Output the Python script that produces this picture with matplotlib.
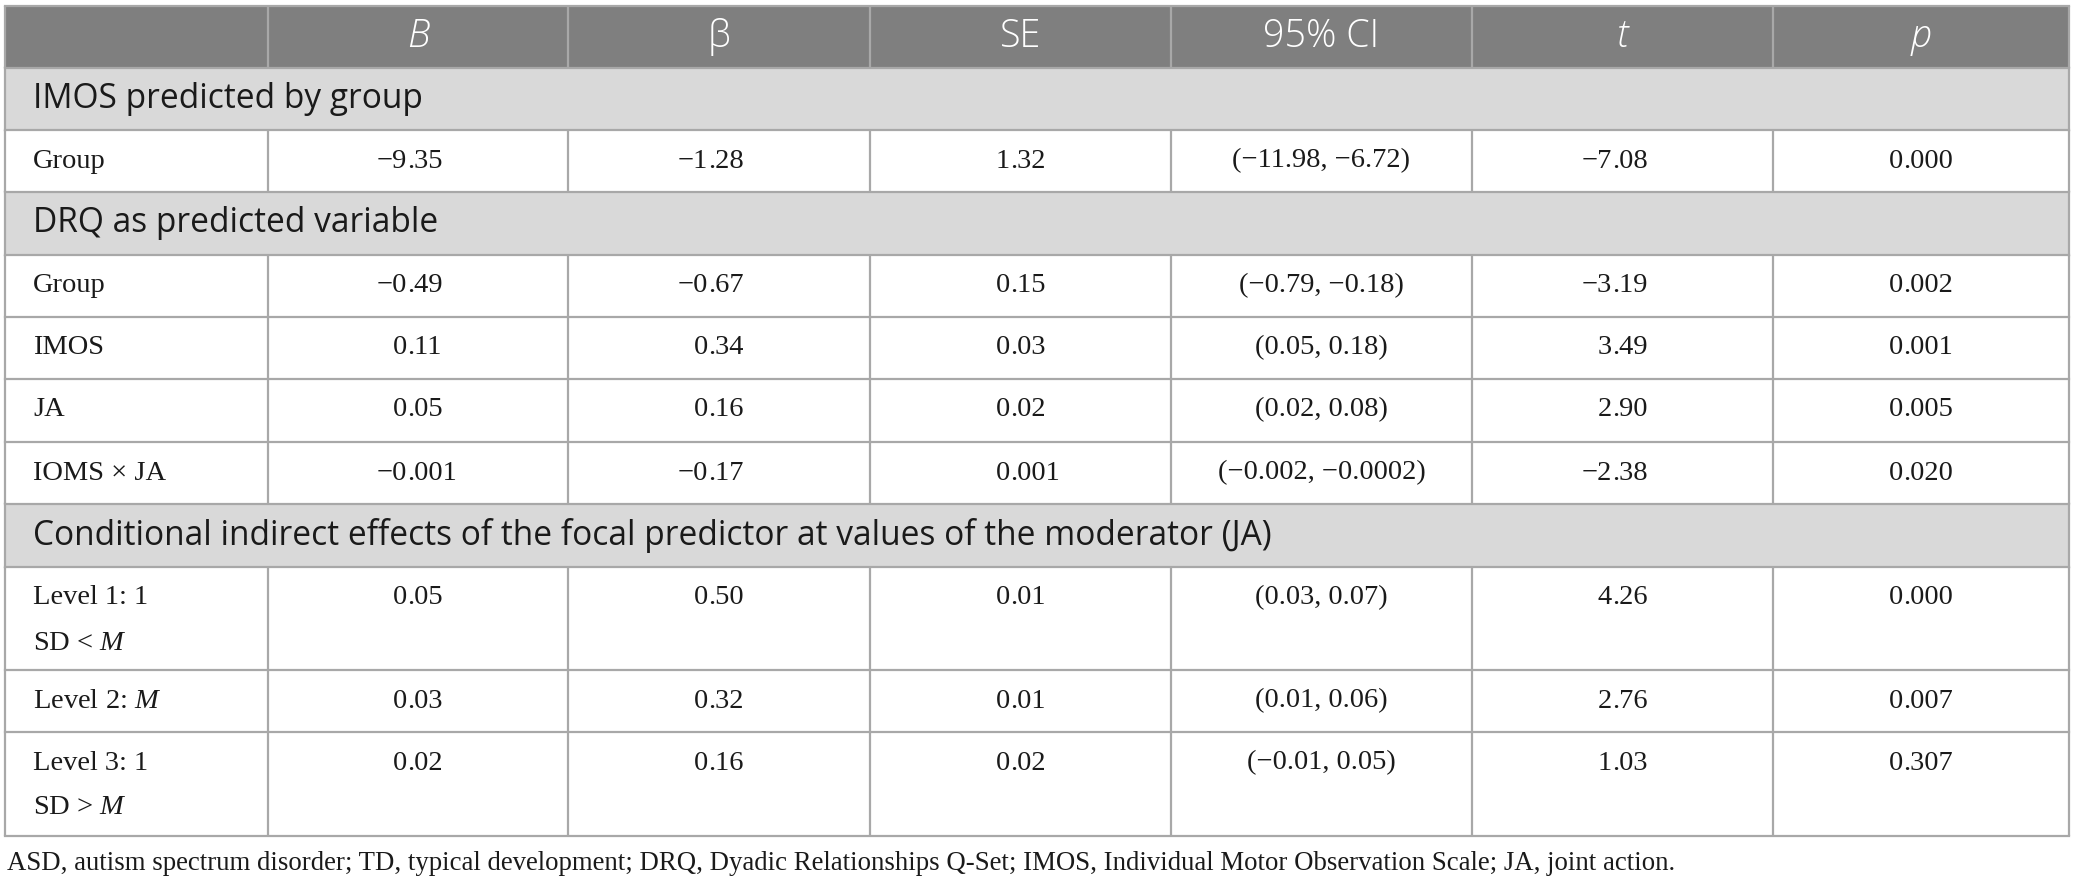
import matplotlib
matplotlib.use("Agg")
import matplotlib.pyplot as plt
from matplotlib.patches import Rectangle
from matplotlib.font_manager import FontProperties

plt.rcParams['mathtext.fontset'] = 'custom'
plt.rcParams['mathtext.rm'] = 'Liberation Serif'
plt.rcParams['mathtext.it'] = 'Liberation Serif:italic'

# ---------------- data ----------------
col_headers = ["", "B", "β", "SE", "95% CI", "t", "p"]
col_header_italic = [False, True, False, False, False, True, True]

section_titles = [
    "IMOS predicted by group",
    "DRQ as predicted variable",
    "Conditional indirect effects of the focal predictor at values of the moderator (JA)",
]
section_sizes = [1, 4, 3]

row_labels = [
    "Group",
    "Group",
    "IMOS",
    "JA",
    "IOMS × JA",
    "Level 1: 1\nSD < $\\mathit{M}$",
    "Level 2: $\\mathit{M}$",
    "Level 3: 1\nSD > $\\mathit{M}$",
]
B_vals = ["−9.35", "−0.49", "0.11", "0.05", "−0.001", "0.05", "0.03", "0.02"]
beta_vals = ["−1.28", "−0.67", "0.34", "0.16", "−0.17", "0.50", "0.32", "0.16"]
SE_vals = ["1.32", "0.15", "0.03", "0.02", "0.001", "0.01", "0.01", "0.02"]
CI_vals = ["(−11.98, −6.72)", "(−0.79, −0.18)", "(0.05, 0.18)", "(0.02, 0.08)",
           "(−0.002, −0.0002)", "(0.03, 0.07)", "(0.01, 0.06)", "(−0.01, 0.05)"]
t_vals = ["−7.08", "−3.19", "3.49", "2.90", "−2.38", "4.26", "2.76", "1.03"]
p_vals = ["0.000", "0.002", "0.001", "0.005", "0.020", "0.000", "0.007", "0.307"]

footnote = ("ASD, autism spectrum disorder; TD, typical development; DRQ, Dyadic Relationships "
            "Q-Set; IMOS, Individual Motor Observation Scale; JA, joint action.")

# ---------------- layout ----------------
W, H = 2075, 890
fig = plt.figure(figsize=(W / 100, H / 100), dpi=100)
ax = fig.add_axes([0, 0, 1, 1])
ax.set_xlim(0, W)
ax.set_ylim(H, 0)
ax.axis("off")
renderer = fig.canvas.get_renderer()

SERIF = "Liberation Serif"
SANS = "Open Sans"


def fit_size(s, target_px, **fp):
    prop = FontProperties(size=20, **fp)
    w, _, _ = renderer.get_text_width_height_descent(s, prop, ismath=False)
    return 20 * target_px / w


FS_HDR = fit_size("95% CI", 116, family=SANS, weight="light")
FS_SEC = fit_size(section_titles[2], 1238, family=SANS)
FS_DATA = 20.5
FS_FOOT = fit_size("ASD, autism spectrum disorder; TD, typical d", 493, family=SERIF)
em = FS_DATA * 100 / 72

col_edges = [5, 268, 568, 870, 1171, 1472, 1773, 2069]
top = 6
hdr_h = 62
sec_h = [62, 63, 63]
row_h = [62, 62, 62, 63, 62, 103, 62, 104]

HDR_BG = "#7f7f7f"
SEC_BG = "#d9d9d9"
LINE = "#a8a8a8"
TXT = "#1a1a1a"
LW = 1.6
PAD = 28

columns = [B_vals, beta_vals, SE_vals, CI_vals, t_vals, p_vals]
col_mode = ["dec2", "dec2", "dec2", "center", "dec2", "dec3"]

x0, x1 = col_edges[0], col_edges[-1]
y = top
ax.add_patch(Rectangle((x0, y), x1 - x0, hdr_h, facecolor=HDR_BG, edgecolor="none"))
for i in range(7):
    cx = (col_edges[i] + col_edges[i + 1]) / 2
    ax.text(cx, y + hdr_h / 2, col_headers[i], ha="center", va="center", color="white",
            fontsize=FS_HDR, family=SANS, weight="light",
            fontstyle="italic" if col_header_italic[i] else "normal")
for xe in col_edges:
    ax.plot([xe, xe], [y, y + hdr_h], color=LINE, lw=LW, solid_capstyle="butt")
ax.plot([x0, x1], [y, y], color=LINE, lw=LW)
y += hdr_h

r = 0
for s, title in enumerate(section_titles):
    sh = sec_h[s]
    ax.add_patch(Rectangle((x0, y), x1 - x0, sh, facecolor=SEC_BG, edgecolor="none"))
    ax.text(x0 + PAD, y + sh / 2, title, ha="left", va="center", color=TXT,
            fontsize=FS_SEC, family=SANS)
    ax.plot([x0, x1], [y, y], color=LINE, lw=LW)
    ax.plot([x0, x0], [y, y + sh], color=LINE, lw=LW)
    ax.plot([x1, x1], [y, y + sh], color=LINE, lw=LW)
    y += sh
    for k in range(section_sizes[s]):
        h = row_h[r]
        ax.plot([x0, x1], [y, y], color=LINE, lw=LW)
        for xe in col_edges:
            ax.plot([xe, xe], [y, y + h], color=LINE, lw=LW, solid_capstyle="butt")
        ty = y + 31
        for li, line in enumerate(row_labels[r].split("\n")):
            ax.text(col_edges[0] + PAD, ty + li * 45, line, ha="left", va="center",
                    fontsize=FS_DATA, family=SERIF, color=TXT)
        for c in range(6):
            val = columns[c][r]
            cx = (col_edges[c + 1] + col_edges[c + 2]) / 2
            mode = col_mode[c]
            if mode == "center":
                ax.text(cx, ty, val, ha="center", va="center", fontsize=FS_DATA,
                        family=SERIF, color=TXT)
            else:
                nd = 2 if mode == "dec2" else 3
                xd = cx - (0.5 + 0.25 + 0.5 * nd) * em / 2 + 0.5 * em
                ip, fp = val.split(".")
                ax.text(xd, ty, ip, ha="right", va="center", fontsize=FS_DATA,
                        family=SERIF, color=TXT)
                ax.text(xd, ty, "." + fp, ha="left", va="center", fontsize=FS_DATA,
                        family=SERIF, color=TXT)
        y += h
        r += 1
ax.plot([x0, x1], [y, y], color=LINE, lw=LW)

ax.text(x0 + 2, y + 27, footnote, ha="left", va="center", fontsize=FS_FOOT,
        family=SERIF, color=TXT)

fig.savefig("out.png", dpi=100)
